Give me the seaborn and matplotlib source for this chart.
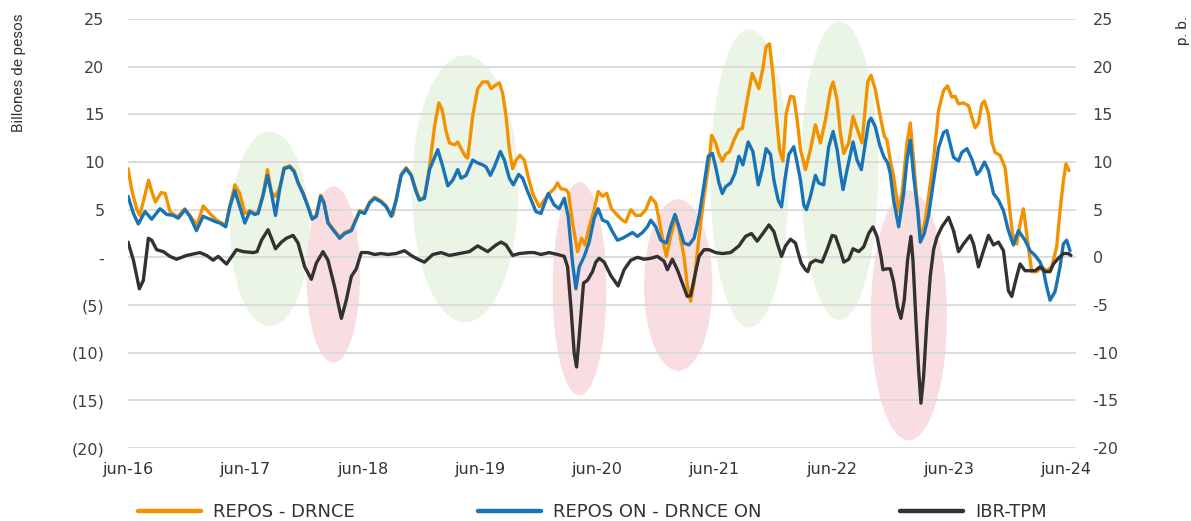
import numpy as np
import pandas as pd
import matplotlib
matplotlib.use("Agg")
import matplotlib.pyplot as plt
from matplotlib.patches import Ellipse
from matplotlib.lines import Line2D
import seaborn as sns

# Months elapsed since June 2016, and values for each series
repos_m = [0, 0.4, 0.9, 1.2, 1.6, 2.1, 2.4, 2.8, 3.4, 3.8, 4.3, 4.8, 5.1, 5.8, 6.3, 7.08, 7.69, 8.38,
           9.06, 9.4, 10.0, 10.42, 10.93, 11.44, 11.95, 12.46, 12.97, 13.3, 13.82, 14.27, 14.68, 15.09,
           15.53, 15.97, 16.55, 16.99, 17.4, 17.9, 18.42, 18.83, 19.27, 19.71, 20.05, 20.46, 20.97,
           21.66, 22.17, 22.85, 23.19, 23.7, 24.21, 24.72, 25.23, 25.91, 26.42, 26.94, 27.1, 27.44,
           27.95, 28.46, 28.97, 29.48, 29.82, 30.33, 30.85, 31.36, 31.8, 32.14, 32.55, 32.89, 33.4,
           33.74, 34.08, 34.52, 34.76, 35.27, 35.78, 36.29, 36.8, 37.14, 37.66, 38.0, 38.34, 38.68,
           39.02, 39.36, 39.7, 40.11, 40.55, 40.89, 41.4, 42.08, 42.59, 43.1, 43.61, 43.95, 44.3,
           44.81, 45.08, 45.49, 46.0, 46.41, 46.75, 47.19, 47.7, 48.11, 48.55, 48.99, 49.47, 50.08,
           50.59, 50.93, 51.45, 51.96, 52.47, 52.98, 53.49, 54.0, 54.34, 54.68, 55.09, 55.53, 56.04,
           56.38, 56.89, 57.23, 57.57, 57.92, 58.43, 58.94, 59.45, 59.72, 60.13, 60.47, 60.81, 61.15,
           61.56, 62.0, 62.51, 62.85, 63.36, 63.87, 64.55, 64.96, 65.3, 65.64, 65.98, 66.32, 66.67,
           67.01, 67.35, 67.79, 68.13, 68.47, 68.81, 69.32, 69.83, 70.34, 70.85, 71.36, 71.88, 72.15,
           72.56, 72.9, 73.24, 73.75, 74.19, 74.6, 75.11, 75.45, 75.69, 76.03, 76.47, 76.91, 77.39,
           77.66, 78.0, 78.34, 78.86, 79.2, 79.71, 80.05, 80.39, 80.73, 81.14, 81.58, 82.0, 82.43,
           82.94, 83.45, 83.86, 84.3, 84.64, 84.98, 85.49, 86.01, 86.35, 86.69, 87.03, 87.37, 87.64,
           88.05, 88.39, 88.73, 89.24, 89.75, 90.09, 90.5, 90.94, 91.28, 91.62, 91.96, 92.47, 92.99,
           93.5, 94.01, 94.52, 95.03, 95.37, 95.71, 95.98, 96.29]
repos_v = [9.3, 7.0, 5.0, 4.4, 6.0, 8.1, 7.0, 5.8, 6.8, 6.7, 4.8, 4.4, 4.3, 5.1, 4.4, 3.4, 5.4, 4.6,
           3.9, 3.7, 3.4, 5.4, 7.6, 6.7, 4.6, 4.9, 4.6, 4.7, 6.6, 9.2, 6.8, 6.4,
           7.3, 9.4, 9.6, 9.1, 7.9, 6.8, 5.4, 4.1, 4.4, 6.5, 5.8, 3.7, 3.0,
           2.1, 2.6, 2.9, 3.7, 4.9, 4.7, 5.8, 6.3, 5.9, 5.4, 4.4, 4.4, 6.1,
           8.7, 9.4, 8.7, 7.0, 6.1, 6.3, 9.5, 13.7, 16.2, 15.5, 13.2, 12.0, 11.8,
           12.1, 11.4, 10.6, 10.4, 14.8, 17.7, 18.4, 18.4, 17.7, 18.1, 18.3, 17.2, 14.8,
           11.3, 9.3, 10.2, 10.7, 10.2, 8.7, 6.7, 5.3, 6.0, 6.7, 7.2, 7.8, 7.2,
           7.1, 6.7, 3.6, 0.6, 2.0, 1.3, 3.2, 5.0, 6.9, 6.4, 6.7, 5.1, 4.4,
           3.9, 3.7, 5.0, 4.4, 4.4, 5.0, 6.3, 5.7, 4.0, 2.0, 0.1, 2.2, 4.3,
           2.9, 0.1, -2.9, -4.6, -2.7, 2.2, 6.4, 9.9, 12.8, 12.0, 10.8, 10.1, 10.8,
           11.1, 12.3, 13.4, 13.5, 16.5, 19.3, 17.7, 19.8, 22.1, 22.4, 19.3, 15.1, 11.3,
           10.1, 15.1, 16.9, 16.8, 14.4, 11.3, 9.2, 11.3, 13.9, 12.0, 14.4, 17.6, 18.4,
           16.5, 13.0, 10.9, 12.0, 14.8, 13.5, 12.0, 15.8, 18.4, 19.1, 17.6, 15.1, 12.7,
           12.3, 10.2, 8.5, 4.8, 6.7, 12.0, 14.1, 10.2, 6.0, 1.8, 3.9, 7.0, 10.3,
           15.4, 17.5, 18.0, 16.8, 16.9, 16.1, 16.2, 15.9, 14.7, 13.6, 14.1, 16.1, 16.4,
           15.0, 12.1, 11.0, 10.7, 9.4, 6.3, 2.5, 1.4, 3.5, 5.1, 2.5, -1.5, -1.5,
           -1.0, -1.4, -1.0, 1.1, 4.9, 8.0, 9.8, 9.1]

on_m = [0, 0.55, 1.05, 1.74, 2.42, 3.27, 3.95, 4.63, 5.14, 5.82, 6.33, 7.0, 7.69, 8.38, 9.06, 9.4,
        10.0, 10.42, 10.93, 11.44, 11.95, 12.46, 12.97, 13.3, 13.82, 14.27, 14.68, 15.09, 15.53,
        15.97, 16.55, 16.99, 17.4, 17.9, 18.42, 18.83, 19.27, 19.71, 20.05, 20.46, 20.97, 21.66,
        22.17, 22.85, 23.19, 23.7, 24.21, 24.72, 25.23, 25.91, 26.42, 26.94, 27.44, 27.95, 28.46,
        28.97, 29.48, 29.82, 30.33, 30.85, 31.7, 32.21, 32.72, 33.23, 33.74, 34.08, 34.59, 35.27,
        35.78, 36.29, 36.63, 37.08, 37.49, 38.1, 38.51, 39.02, 39.43, 39.97, 40.38, 40.89, 41.06,
        41.74, 42.25, 43.0, 43.61, 44.12, 44.64, 45.04, 45.49, 45.83, 46.17, 46.68, 47.19, 47.7,
        48.11, 48.55, 49.06, 49.57, 50.08, 50.59, 51.1, 51.62, 52.13, 52.64, 53.15, 53.49, 54.0,
        54.51, 55.09, 55.53, 55.97, 56.38, 56.89, 57.4, 57.92, 58.43, 58.94, 59.38, 59.79, 60.13,
        60.47, 60.81, 61.15, 61.66, 62.1, 62.51, 62.92, 63.46, 63.94, 64.49, 64.89, 65.3, 65.75,
        66.09, 66.53, 66.87, 67.21, 67.62, 68.13, 68.47, 68.81, 69.15, 69.42, 69.83, 70.34, 70.68,
        71.19, 71.7, 72.15, 72.56, 72.9, 73.17, 73.58, 74.19, 74.6, 75.04, 75.45, 75.79, 76.03,
        76.47, 76.91, 77.32, 77.73, 78.0, 78.34, 78.86, 79.37, 79.71, 80.05, 80.39, 80.8, 81.07,
        81.48, 81.92, 82.43, 82.94, 83.45, 83.79, 84.13, 84.47, 84.98, 85.32, 85.84, 86.35, 86.86,
        87.2, 87.64, 88.05, 88.56, 89.07, 89.58, 90.09, 90.6, 91.11, 91.79, 92.3, 92.82, 93.33,
        93.67, 94.01, 94.35, 94.86, 95.37, 95.71, 96.05, 96.39]
on_v = [6.4, 4.6, 3.5, 4.8, 4.0, 5.1, 4.5, 4.4, 4.1, 5.0, 4.3, 2.8, 4.3, 4.0, 3.7, 3.6,
        3.2, 5.3, 7.0, 5.3, 3.6, 4.8, 4.5, 4.6, 6.5, 8.6, 6.7, 4.4, 7.2,
        9.3, 9.5, 9.0, 7.8, 6.7, 5.3, 4.0, 4.3, 6.4, 5.7, 3.6, 2.9, 2.0,
        2.5, 2.8, 3.6, 4.8, 4.6, 5.7, 6.2, 5.8, 5.3, 4.3, 6.0, 8.6, 9.3,
        8.6, 6.9, 6.0, 6.2, 9.2, 11.3, 9.5, 7.5, 8.1, 9.2, 8.3, 8.6, 10.2,
        9.9, 9.7, 9.5, 8.6, 9.5, 11.1, 10.2, 8.3, 7.6, 8.7, 8.3, 6.9, 6.5,
        4.8, 4.6, 6.7, 5.5, 5.1, 6.2, 4.3, -0.6, -3.3, -1.0, 0.1, 1.6, 4.1,
        5.1, 3.9, 3.7, 2.7, 1.8, 2.0, 2.3, 2.6, 2.2, 2.6, 3.2, 3.9, 3.2,
        1.8, 1.5, 3.2, 4.5, 3.2, 1.5, 1.3, 2.0, 4.3, 7.6, 10.6, 10.9, 9.5,
        7.8, 6.7, 7.4, 7.8, 8.8, 10.6, 9.7, 12.1, 11.1, 7.6, 9.2, 11.4, 10.8,
        8.1, 6.0, 5.3, 8.1, 10.8, 11.6, 9.9, 8.1, 5.5, 5.0, 6.4, 8.6, 7.8,
        7.6, 11.6, 13.2, 11.3, 8.8, 7.1, 9.2, 12.1, 10.2, 9.2, 12.0, 14.2, 14.6,
        13.7, 11.8, 10.6, 9.9, 8.8, 6.0, 3.2, 6.7, 10.2, 12.3, 8.5, 5.0, 1.6,
        2.5, 4.4, 8.0, 11.5, 13.1, 13.3, 11.9, 10.5, 10.1, 11.0, 11.4, 10.3, 8.7,
        9.1, 10.0, 9.1, 6.7, 6.0, 4.9, 2.8, 1.3, 2.8, 1.8, 0.7, 0.2, -0.5,
        -1.4, -3.1, -4.5, -3.6, -1.0, 1.4, 1.8, 0.7]

ibr_m = [0, 0.55, 1.16, 1.57, 2.08, 2.42, 2.93, 3.61, 4.29, 4.97, 6.0, 7.35, 8.04, 8.71, 9.23,
         10.08, 11.1, 11.78, 12.8, 13.2, 13.66, 14.33, 14.68, 15.09, 15.7, 16.2, 16.89, 17.4,
         18.08, 18.76, 19.27, 19.95, 20.46, 21.14, 21.83, 22.33, 22.85, 23.36, 23.87, 24.55, 25.23,
         25.91, 26.59, 27.44, 28.29, 28.97, 29.65, 30.33, 31.19, 32.04, 32.89, 33.91, 34.93, 35.78,
         36.8, 37.66, 38.17, 38.68, 39.36, 40.04, 41.06, 41.57, 42.25, 43.1, 43.95, 44.64, 44.98,
         45.32, 45.66, 45.9, 46.17, 46.61, 47.02, 47.53, 47.87, 48.21, 48.72, 49.4, 50.15, 50.76,
         51.45, 52.13, 52.81, 53.49, 54.17, 54.85, 55.19, 55.7, 56.21, 56.72, 57.23, 57.57, 57.92,
         58.43, 58.94, 59.45, 60.13, 60.81, 61.66, 62.51, 63.19, 63.8, 64.38, 64.96, 65.58, 66.09,
         66.43, 66.87, 67.28, 67.79, 68.3, 68.54, 68.88, 69.32, 69.56, 69.83, 70.34, 71.02, 71.53,
         72.05, 72.39, 72.9, 73.24, 73.75, 74.19, 74.77, 75.28, 75.79, 76.23, 76.64, 77.05, 77.25,
         77.66, 78.0, 78.34, 78.75, 79.09, 79.43, 79.77, 80.11, 80.32, 80.66, 80.9, 81.14, 81.41,
         81.75, 82.09, 82.43, 82.77, 83.28, 83.96, 84.47, 84.98, 85.49, 86.18, 86.52, 87.03, 87.54,
         88.05, 88.56, 89.07, 89.58, 90.09, 90.43, 90.84, 91.28, 91.79, 92.3, 92.82, 93.33, 93.84,
         94.35, 94.69, 95.2, 95.71, 96.22, 96.49]
ibr_v = [1.6, -0.3, -3.3, -2.4, 2.0, 1.8, 0.8, 0.6, 0.1, -0.2, 0.2, 0.5, 0.2, -0.3, 0.1,
         -0.7, 0.8, 0.6, 0.5, 0.6, 1.8, 2.9, 2.0, 0.9, 1.6, 2.0, 2.3, 1.5,
         -1.0, -2.3, -0.6, 0.6, -0.3, -3.1, -6.4, -4.5, -2.0, -1.2, 0.5, 0.5, 0.3,
         0.4, 0.3, 0.4, 0.7, 0.2, -0.2, -0.5, 0.3, 0.5, 0.2, 0.4, 0.6, 1.2,
         0.6, 1.3, 1.6, 1.3, 0.2, 0.4, 0.5, 0.5, 0.3, 0.5, 0.3, 0.1, -1.0,
         -5.2, -10.1, -11.5, -8.3, -2.7, -2.4, -1.5, -0.5, -0.1, -0.5, -1.9, -3.0, -1.3,
         -0.3, 0.0, -0.2, -0.1, 0.1, -0.4, -1.3, -0.2, -1.3, -2.7, -4.1, -4.0, -2.3,
         0.1, 0.8, 0.8, 0.5, 0.4, 0.5, 1.2, 2.2, 2.5, 1.7, 2.5, 3.4, 2.7,
         1.5, 0.1, 1.2, 1.9, 1.5, 0.6, -0.6, -1.3, -1.5, -0.6, -0.3, -0.5, 0.8,
         2.3, 2.2, 0.7, -0.5, -0.2, 0.9, 0.6, 1.1, 2.5, 3.2, 2.2, 0.1, -1.3,
         -1.2, -1.2, -2.6, -5.2, -6.4, -4.5, -0.3, 2.2, -0.3, -7.3, -11.8, -15.3, -12.5,
         -6.6, -2.0, 0.8, 2.1, 3.2, 4.2, 2.8, 0.6, 1.4, 2.3, 1.4, -1.0, 0.7,
         2.3, 1.3, 1.6, 0.7, -3.5, -4.1, -2.4, -0.7, -1.4, -1.4, -1.4, -1.0, -1.5,
         -1.5, -0.7, -0.1, 0.4, 0.4, 0.2]

tick_months = [0, 12, 24, 36, 48, 60, 72, 84, 96]
tick_labels = ["jun-16", "jun-17", "jun-18", "jun-19", "jun-20", "jun-21", "jun-22", "jun-23", "jun-24"]

series_names = ["REPOS - DRNCE", "REPOS ON - DRNCE ON", "IBR-TPM"]

# Shaded episodes: (center month, center value, width in months, height, kind)
highlights = [
    (14.5, 3.0, 8.1, 20.4, "up"),
    (21.0, -1.8, 5.5, 18.5, "down"),
    (34.5, 7.2, 10.9, 28.0, "up"),
    (46.2, -3.3, 5.5, 22.4, "down"),
    (56.3, -2.9, 7.0, 18.0, "down"),
    (63.6, 8.3, 8.0, 31.3, "up"),
    (72.8, 9.1, 7.9, 31.3, "up"),
    (79.9, -6.1, 7.8, 26.2, "down"),
]

sns.set_theme(style="white")
plt.rcParams["font.family"] = ["DejaVu Sans"]

colors = {"REPOS - DRNCE": "#F39200", "REPOS ON - DRNCE ON": "#1874B6", "IBR-TPM": "#333131"}
shade = {"up": "#EAF5E5", "down": "#F9DEE1"}

df = pd.concat([
    pd.DataFrame({"mes": repos_m, "valor": repos_v, "serie": series_names[0]}),
    pd.DataFrame({"mes": on_m, "valor": on_v, "serie": series_names[1]}),
    pd.DataFrame({"mes": ibr_m, "valor": ibr_v, "serie": series_names[2]}),
], ignore_index=True)

fig = plt.figure(figsize=(11.91, 5.21), dpi=100)
ax = fig.add_axes([0.1075, 0.1401, 0.7959, 0.8234])

for cx, cy, w, h, kind in highlights:
    ax.add_patch(Ellipse((cx, cy), w, h, facecolor=shade[kind], edgecolor="none", zorder=0.2))

for name in series_names:
    sns.lineplot(data=df[df["serie"] == name], x="mes", y="valor", color=colors[name],
                 linewidth=2.4, ax=ax, legend=False, zorder=3, estimator=None, sort=True)

ax.set_xlim(0, 97)
ax.set_ylim(-20, 25)
yticks = list(range(-20, 30, 5))
ax.set_yticks(yticks)
ax.set_yticklabels(["-" if t == 0 else (f"({abs(t)})" if t < 0 else str(t)) for t in yticks])
ax.set_xticks(tick_months)
ax.set_xticklabels(tick_labels)
ax.set_xlabel("")
ax.set_ylabel("")
ax.grid(axis="y", color="#D9D9D9", linewidth=1.3, zorder=0.5)
ax.set_axisbelow(True)
for s in ax.spines.values():
    s.set_visible(False)
ax.tick_params(axis="y", length=0, pad=17, labelsize=11.5, labelcolor="#404040")
ax.tick_params(axis="x", length=0, pad=10, labelsize=11.5, labelcolor="#333333")

ax2 = ax.twinx()
ax2.set_ylim(-20, 25)
ax2.set_yticks(yticks)
ax2.set_yticklabels([str(t) for t in yticks])
for s in ax2.spines.values():
    s.set_visible(False)
ax2.tick_params(axis="y", length=0, pad=12, labelsize=11.5, labelcolor="#404040")

fig.text(0.016, 0.975, "Billones de pesos", rotation=90, ha="center", va="top",
         fontsize=11, color="#333333", family=["Roboto", "DejaVu Sans"])
fig.text(0.993, 0.97, "p. b.", rotation=90, ha="center", va="top",
         fontsize=11, color="#333333", family=["Roboto", "DejaVu Sans"])

legend_x = [0.1159, 0.4013, 0.7557]
for name, lx in zip(series_names, legend_x):
    handle = Line2D([], [], color=colors[name], linewidth=3.2)
    fig.legend([handle], [name], loc="center left", bbox_to_anchor=(lx, 0.017),
               frameon=False, fontsize=13, handlelength=3.5, handletextpad=0.65,
               borderaxespad=0, borderpad=0, labelcolor="#333333")

fig.savefig("out.png", dpi=100)
